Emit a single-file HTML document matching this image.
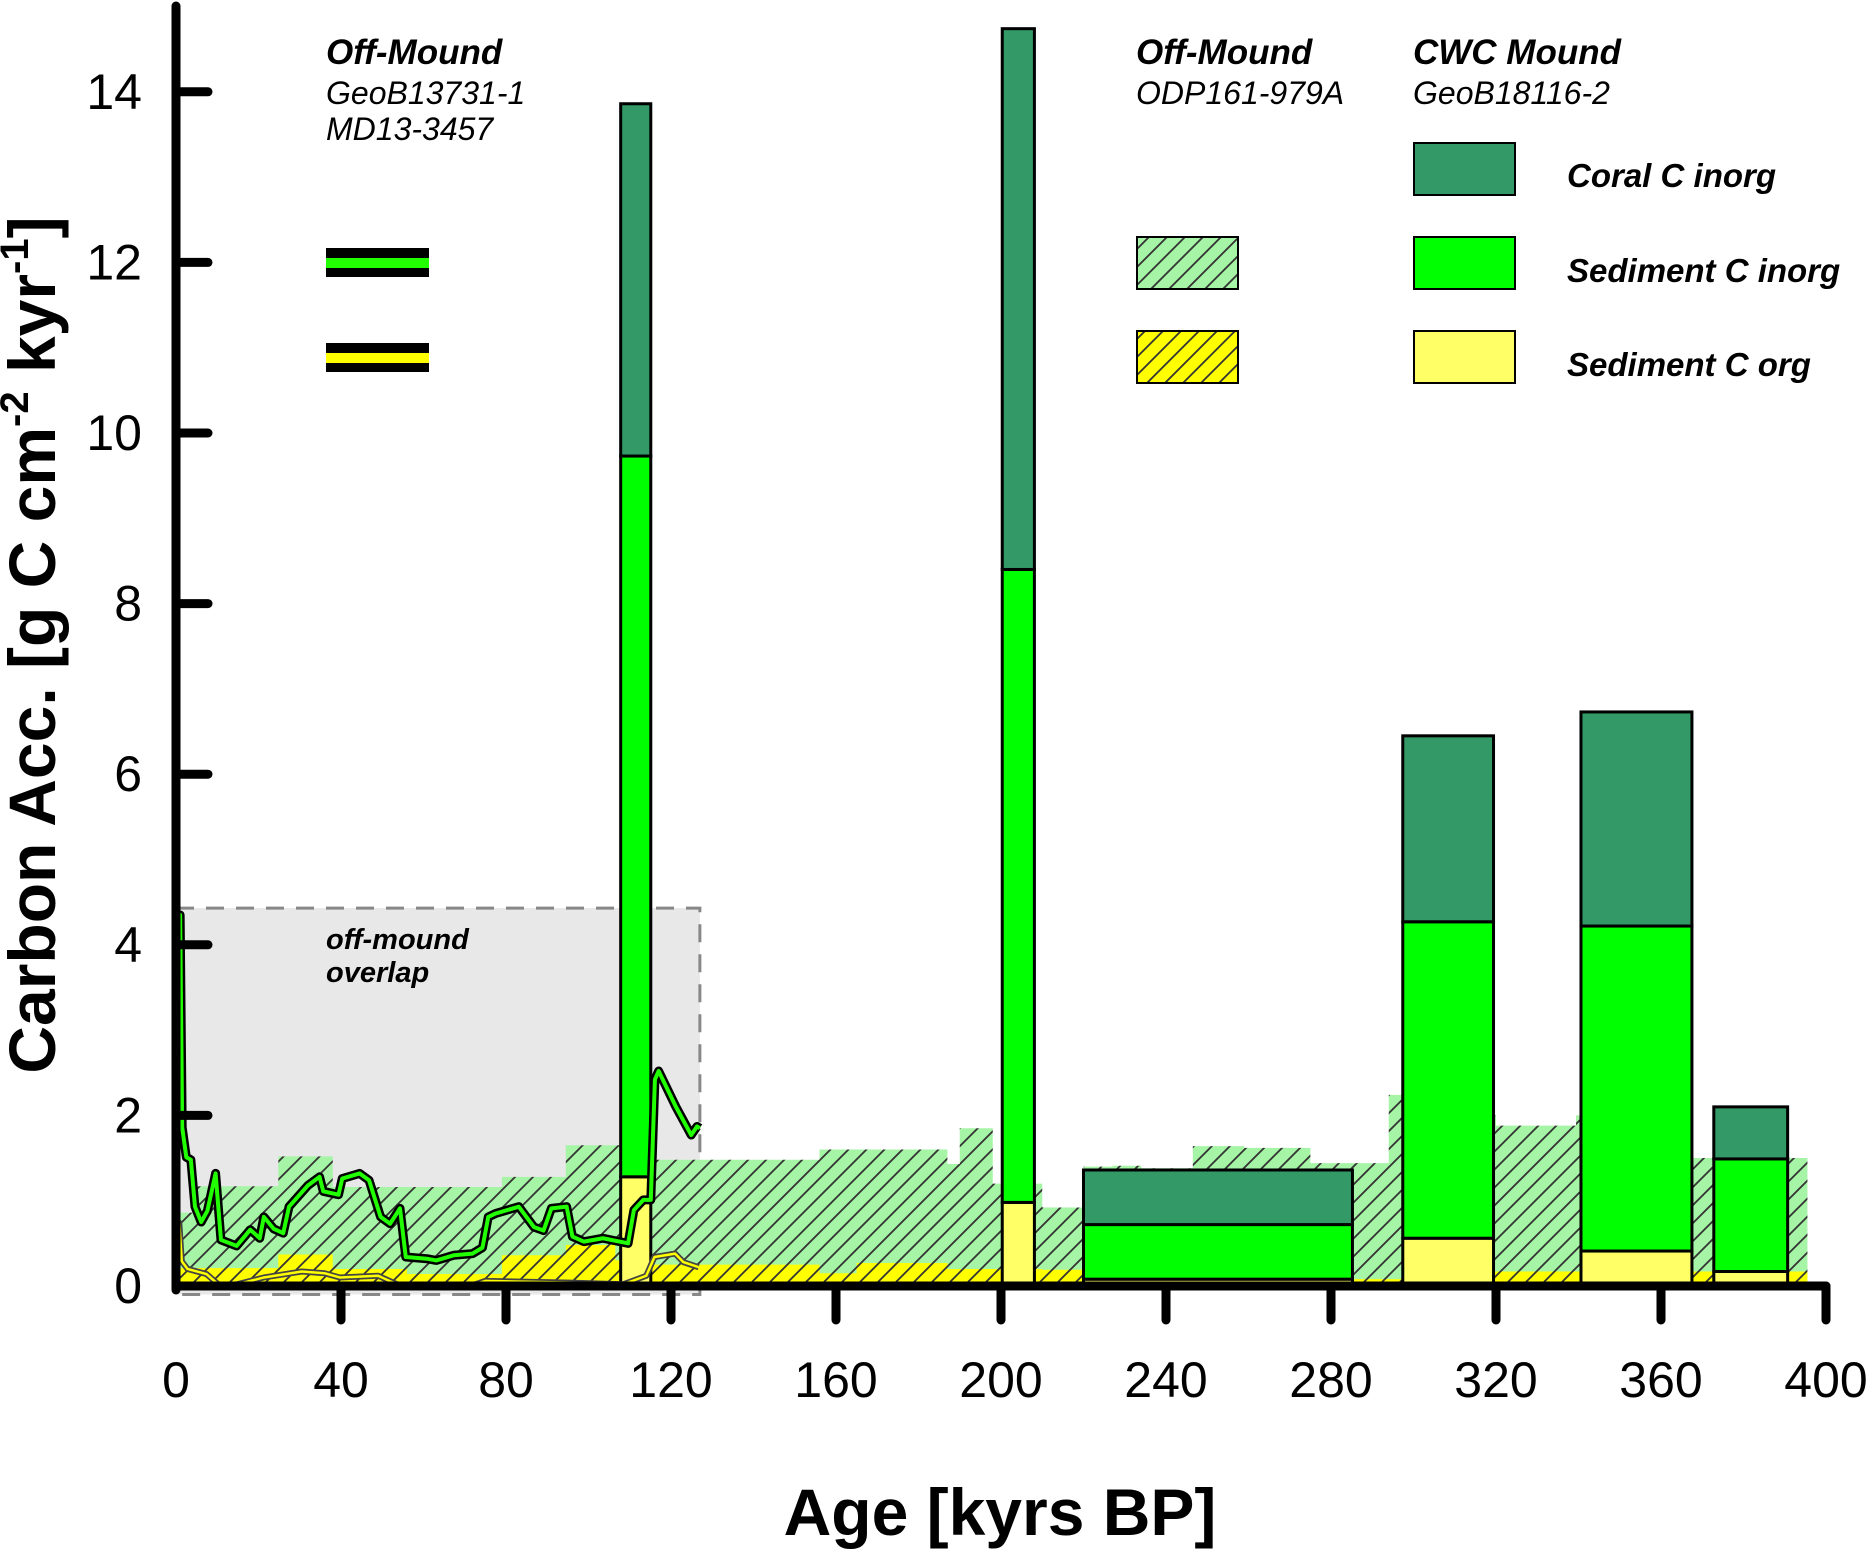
<!DOCTYPE html>
<html><head><meta charset="utf-8"><style>
html,body{margin:0;padding:0;background:#fff;}
svg{display:block;font-family:"Liberation Sans",Arial,sans-serif;}
</style></head><body>
<svg id="chart" width="1875" height="1549" viewBox="0 0 1875 1549" xmlns="http://www.w3.org/2000/svg">
<defs>
<pattern id="hatchG" patternUnits="userSpaceOnUse" width="18" height="18">
<rect width="18" height="18" fill="#a6f5a6"/>
<path d="M-2,2 l4,-4 M0,18 l18,-18 M16,20 l4,-4" stroke="#333" stroke-width="1.8"/>
</pattern>
<pattern id="hatchY" patternUnits="userSpaceOnUse" width="18" height="18">
<rect width="18" height="18" fill="#ffff00"/>
<path d="M-2,2 l4,-4 M0,18 l18,-18 M16,20 l4,-4" stroke="#333" stroke-width="1.8"/>
</pattern>
</defs>
<g id="layer-bg"></g>
<g id="layer-area"></g>
<g id="layer-bars"></g>
<g id="layer-lines"></g>
<g id="layer-axes"></g>
<g id="layer-legend"></g>
</svg>
<script>
// ---- data ----
const xTicks = [0,40,80,120,160,200,240,280,320,360,400];
const yTicks = [0,2,4,6,8,10,12,14];
// ODP161-979A stepped series
const odpInorgEdges = [0,4.6,24.8,38,79,94.5,106.5,115.4,156,187,190,198,210,220,227,234,246.5,259,275,294,297.6,320,339.4,340.6,368,395.5];
const odpInorgVals = [0.86,1.17,1.52,1.16,1.28,1.65,1.65,1.48,1.6,1.43,1.85,1.2,0.92,1.4,1.41,1.38,1.64,1.62,1.44,2.24,2.0,1.88,2.0,1.5,1.5];
const odpOrgEdges = [0,24.8,38,56,79,94.5,106.5,115.4,140,156,165,187,210,220,285,297.6,320,395.5];
const odpOrgVals = [0.21,0.37,0.2,0.14,0.36,0.48,0.3,0.25,0.25,0.15,0.27,0.2,0.19,0.08,0.08,0.17,0.17];
// CWC mound bars
const barStart = [107.8,200.3,220,297.4,340.6,372.8];
const barEnd = [115.1,208.1,285.2,319.4,367.5,390.7];
const barOrg = [1.28,0.98,0.08,0.56,0.41,0.17];
const barSedInorg = [9.73,8.4,0.72,4.27,4.22,1.49];
const barTotal = [13.86,14.74,1.36,6.45,6.73,2.1];
// GeoB13731-1 / MD13-3457 lines
const inorgAge = [0.3,0.6,0.8,1.0,1.5,2.5,3.6,4.6,6.1,7.6,9.6,10.9,14.7,18.0,20.3,21.3,23.7,26.0,27.4,32.0,34.8,35.7,39.4,40.3,44.5,46.8,49.6,51.9,54.3,55.7,60.8,63.1,67.3,71.9,74.3,75.7,77.5,83.1,86.8,89.1,91.0,94.7,96.1,98.9,103.5,109.6,111.0,113.3,115.1,116.1,117.0,121.2,124.9,126.3,127];
const inorgVal = [3.1,3.5,2.9,4.35,1.86,1.51,1.48,0.93,0.75,0.88,1.32,0.54,0.47,0.66,0.56,0.81,0.67,0.62,0.93,1.18,1.28,1.11,1.07,1.26,1.32,1.24,0.81,0.73,0.91,0.34,0.32,0.30,0.36,0.38,0.45,0.81,0.85,0.93,0.69,0.65,0.91,0.93,0.58,0.52,0.56,0.50,0.89,1.01,1.01,2.42,2.52,2.1,1.77,1.87,1.85];
const orgAge = [0.3,0.8,1.4,2.8,7.4,10.7,14.8,21.3,30.5,36,39.7,49,54.5,72,75,95.4,108.4,114,116,121,123,126.7];
const orgVal = [0.66,0.74,0.29,0.2,0.14,0.0,0.02,0.1,0.17,0.15,0.1,0.12,0.0,0.01,0.06,0.04,0.02,0.12,0.34,0.38,0.28,0.22];

// ---- axes ----
const X = v => 176 + v*4.125;
const Y = v => 1286 - v*85.3;
const NS = "http://www.w3.org/2000/svg";
function mk(tag, attrs, parent){const e=document.createElementNS(NS,tag);for(const k in attrs)e.setAttribute(k,attrs[k]);parent.appendChild(e);return e;}
const bg=document.getElementById('layer-bg'),area=document.getElementById('layer-area'),bars=document.getElementById('layer-bars'),lines=document.getElementById('layer-lines'),axes=document.getElementById('layer-axes'),leg=document.getElementById('layer-legend');

// overlap box
const ob=mk('rect',{x:X(0),y:Y(4.43),width:X(127)-X(0),height:Y(-0.1)-Y(4.43),fill:'#e8e8e8',stroke:'#888','stroke-width':3,'stroke-dasharray':'18,12'},bg);


const ot=mk('text',{x:326,y:949,'font-size':29,'font-weight':'bold','font-style':'italic'},bg);


ot.innerHTML='<tspan x="326">off-mound</tspan><tspan x="326" dy="33">overlap</tspan>';

function stepPath(edges, vals){
  let d='M'+X(edges[0])+','+Y(0);
  for(let i=0;i<vals.length;i++){d+=' L'+X(edges[i])+','+Y(vals[i])+' L'+X(edges[i+1])+','+Y(vals[i]);}
  d+=' L'+X(edges[edges.length-1])+','+Y(0)+' Z';return d;
}
const ga=mk('path',{d:stepPath(odpInorgEdges,odpInorgVals),fill:'url(#hatchG)'},area);


const ya=mk('path',{d:stepPath(odpOrgEdges,odpOrgVals),fill:'url(#hatchY)'},area);



// bars
for(let i=0;i<barStart.length;i++){
  const x0=X(barStart[i]),w=X(barEnd[i])-x0;
  const segs=[[0,barOrg[i],'#ffff66','org'],[barOrg[i],barSedInorg[i],'#00ff00','sediment-inorg'],[barSedInorg[i],barTotal[i],'#339966','coral-inorg']];
  for(const s of segs){
    const r=mk('rect',{x:x0,y:Y(s[1]),width:w,height:Y(s[0])-Y(s[1]),fill:s[2],stroke:'#000','stroke-width':3},bars);
    
    
  }
}

// lines
function pts(a,v){return a.map((t,i)=>X(t)+','+Y(v[i])).join(' ');}
const l1=mk('polyline',{points:pts(inorgAge,inorgVal),fill:'none',stroke:'#000','stroke-width':9,'stroke-linejoin':'round'},lines);


const l2=mk('polyline',{points:pts(inorgAge,inorgVal),fill:'none',stroke:'#22ff00','stroke-width':4,'stroke-linejoin':'round'},lines);


const l3=mk('polyline',{points:pts(orgAge,orgVal),fill:'none',stroke:'#444','stroke-width':6,'stroke-linejoin':'round'},lines);


const l4=mk('polyline',{points:pts(orgAge,orgVal),fill:'none',stroke:'#ffff00','stroke-width':2.5,'stroke-linejoin':'round'},lines);



// axes
const ya1=mk('line',{x1:X(0),y1:6,x2:X(0),y2:Y(0)+4,stroke:'#000','stroke-width':9,'stroke-linecap':'round'},axes);


const xa1=mk('line',{x1:X(0),y1:Y(0),x2:X(400),y2:Y(0),stroke:'#000','stroke-width':9,'stroke-linecap':'round'},axes);


for(const t of yTicks){
  if(t>0){const tk=mk('line',{x1:X(0),y1:Y(t),x2:X(0)+32,y2:Y(t),stroke:'#000','stroke-width':9,'stroke-linecap':'round'},axes);
  
  }
  const tl=mk('text',{x:142,y:Y(t)+17,'font-size':50,'text-anchor':'end'},axes);
  
  
  tl.textContent=t;
}
for(const t of xTicks){
  if(t>0){const tk=mk('line',{x1:X(t),y1:Y(0),x2:X(t),y2:Y(0)+34,stroke:'#000','stroke-width':9,'stroke-linecap':'round'},axes);
  
  }
  const tl=mk('text',{x:X(t),y:1397,'font-size':50,'text-anchor':'middle'},axes);
  
  
  tl.textContent=t;
}
const xt=mk('text',{x:1000,y:1535,'font-size':66,'font-weight':'bold','text-anchor':'middle'},axes);


xt.textContent='Age [kyrs BP]';
const yt=mk('text',{x:0,y:0,'font-size':66,'font-weight':'bold','text-anchor':'middle',transform:'translate(55,645) rotate(-90)'},axes);


yt.innerHTML='Carbon Acc. [g C cm<tspan font-size="40" dy="-27">-2</tspan><tspan dy="27"> kyr</tspan><tspan font-size="40" dy="-27">-1</tspan><tspan dy="27">]</tspan>';

// legend
function txt(x,y,s,size,bold,name){const t=mk('text',{x:x,y:y,'font-size':size,'font-style':'italic','font-weight':bold?'bold':'normal'},leg);t.textContent=s;return t;}
txt(326,64,'Off-Mound',35,true,'legend-title-offmound-1');
txt(326,104,'GeoB13731-1',32,false,'legend-core-geob13731');
txt(326,140,'MD13-3457',32,false,'legend-core-md13');
txt(1136,64,'Off-Mound',35,true,'legend-title-offmound-2');
txt(1136,104,'ODP161-979A',32,false,'legend-core-odp');
txt(1413,64,'CWC Mound',35,true,'legend-title-cwc');
txt(1413,104,'GeoB18116-2',32,false,'legend-core-geob18116');
txt(1567,187,'Coral C inorg',33,true,'legend-label-coral');
txt(1567,282,'Sediment C inorg',33,true,'legend-label-sed-inorg');
txt(1567,376,'Sediment C org',33,true,'legend-label-sed-org');
function sw(y,col,name){
  const g=mk('g',{},leg);
  mk('rect',{x:326,y:y,width:103,height:29,fill:'#000'},g);
  mk('rect',{x:326,y:y+10,width:103,height:10,fill:col},g);
}
sw(248,'#22ff00','legend-swatch-inorg-line');
sw(343,'#ffff00','legend-swatch-org-line');
function box(x,y,fill,name){const r=mk('rect',{x:x,y:y,width:101,height:52,fill:fill,stroke:'#000','stroke-width':2},leg);}
box(1414,143,'#339966','legend-box-coral');
box(1414,237,'#00ff00','legend-box-sed-inorg');
box(1414,331,'#ffff66','legend-box-sed-org');
box(1137,237,'url(#hatchG)','legend-box-odp-inorg');
box(1137,331,'url(#hatchY)','legend-box-odp-org');
</script>
</body></html>
